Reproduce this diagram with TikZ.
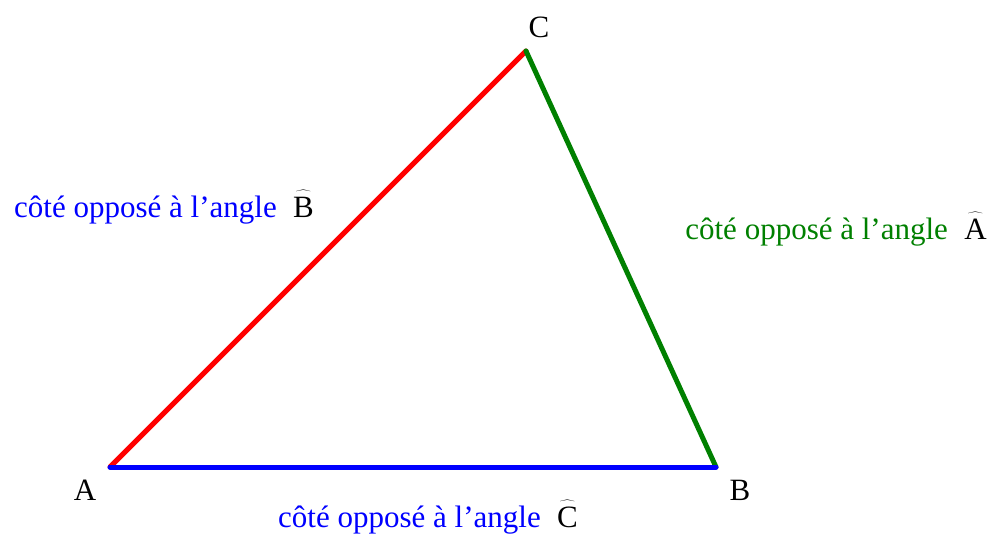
\documentclass[tikz,border=0pt]{standalone}
\usepackage{fontspec}
\setmainfont{Liberation Serif}
\definecolor{ggreen}{RGB}{0,128,0}
\newcommand\anglehat[1]{$\widehat{\raisebox{0pt}[1.2\height]{#1}}$}
\begin{document}
\begin{tikzpicture}[x=1pt,y=-1pt,
  side/.style={line width=5pt,line cap=round},
  vlabel/.style={font=\fontsize{31}{36}\selectfont},
  slabel/.style={font=\fontsize{31}{36}\selectfont,inner sep=0pt}]
\useasboundingbox (0,0) rectangle (994,537);
\coordinate (A) at (110,467);
\coordinate (B) at (716,467);
\coordinate (C) at (526,51);
\draw[side,red] (A) -- (C);
\draw[side,ggreen] (C) -- (B);
\draw[side,blue] (A) -- (B);
\node[vlabel] (lA) at (85,490) {A};
\node[vlabel] (lB) at (740,490) {B};
\node[vlabel] (lC) at (539,27) {C};
\node[slabel] (sB) at (164,207) {\textcolor{blue}{côté opposé à l’angle}\; \anglehat{B}};
\node[slabel] (sA) at (836,229) {\textcolor{ggreen}{côté opposé à l’angle}\; \anglehat{A}};
\node[slabel] (sC) at (428,517) {\textcolor{blue}{côté opposé à l’angle}\; \anglehat{C}};
\end{tikzpicture}
\end{document}
